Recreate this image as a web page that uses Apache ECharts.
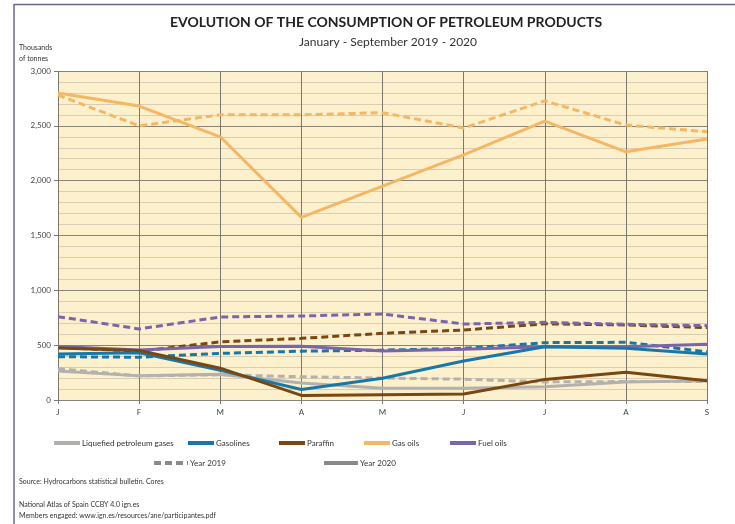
<!DOCTYPE html>
<html><head><meta charset="utf-8">
<script src="https://cdn.jsdelivr.net/npm/echarts@6/dist/echarts.min.js"></script>
<style>html,body{margin:0;padding:0;background:#fff}#c{width:735px;height:524px}</style>
</head><body><div id="c"></div>
<script>
const months = ['J','F','M','A','M','J','J','A','S'];
const yTicks = [0, 500, 1000, 1500, 2000, 2500, 3000];
const products = ['Liquefied petroleum gases','Gasolines','Paraffin','Gas oils','Fuel oils'];
const years = ['Year 2019','Year 2020'];
const lpg2019 = [285, 220, 230, 212, 200, 190, 165, 168, 168];
const lpg2020 = [265, 220, 235, 155, 107, 107, 120, 165, 175];
const gasolines2019 = [395, 390, 425, 445, 455, 470, 523, 526, 440];
const gasolines2020 = [420, 430, 270, 95, 198, 355, 486, 472, 420];
const paraffin2019 = [480, 445, 530, 562, 608, 638, 695, 684, 660];
const paraffin2020 = [475, 452, 290, 42, 48, 55, 188, 252, 176];
const gasoils2019 = [2780, 2500, 2600, 2600, 2620, 2480, 2728, 2507, 2446];
const gasoils2020 = [2800, 2680, 2400, 1665, 1950, 2235, 2543, 2263, 2380];
const fueloils2019 = [760, 648, 757, 766, 784, 693, 708, 690, 678];
const fueloils2020 = [487, 456, 487, 490, 447, 462, 486, 486, 508];

const colors = {lpg:'#b3b1ae', gas:'#1777a8', par:'#7a4710', go:'#f4b766', fo:'#7a65ad'};
const font = 'Lato, "DejaVu Sans", sans-serif';
const narrow = '"Liberation Sans Narrow", Lato, sans-serif';

function s(name, data, color, dashed){
  return {type:'line', name, data, symbol:'none', smooth:false,
    lineStyle:{color, width:3, type: dashed ? [7,4] : 'solid'}, itemStyle:{color}};
}
const series = [
  s('LPG 2019', lpg2019, colors.lpg, true),
  s('Liquefied petroleum gases', lpg2020, colors.lpg, false),
  s('Gasolines 2019', gasolines2019, colors.gas, true),
  s('Paraffin 2019', paraffin2019, colors.par, true),
  s('Fuel oils 2019', fueloils2019, colors.fo, true),
  s('Fuel oils', fueloils2020, colors.fo, false),
  s('Gasolines', gasolines2020, colors.gas, false),
  s('Paraffin', paraffin2020, colors.par, false),
  s('Gas oils 2019', gasoils2019, colors.go, true),
  s('Gas oils', gasoils2020, colors.go, false),
  {type:'line', name:years[0], data:[], symbol:'none', lineStyle:{color:'#8a8a8a', width:3, type:[7,4]}, itemStyle:{color:'#8a8a8a'}},
  {type:'line', name:years[1], data:[], symbol:'none', lineStyle:{color:'#8a8a8a', width:3}, itemStyle:{color:'#8a8a8a'}}
];

const legendCommon = {itemHeight:8, itemStyle:{opacity:0}, padding:0,
  lineStyle:{width:4},
  textStyle:{fontFamily:narrow, fontSize:8, color:'#333', padding:[0,0,0,-3]}};
const row1Left = [52, 186, 277, 362, 448];
const row2Left = [152, 322];
const legends = products.map((p, i) => Object.assign({data:[p], left:row1Left[i], top:439, itemWidth:26}, legendCommon))
  .concat(years.map((y, i) => Object.assign({data:[y], left:row2Left[i], top:459, itemWidth:34}, legendCommon)));

const chart = echarts.init(document.getElementById('c'), null, {renderer:'canvas'});
chart.setOption({
  animation:false,
  backgroundColor:'#ffffff',
  title:[
    {text:'EVOLUTION OF THE CONSUMPTION OF PETROLEUM PRODUCTS', left:381, top:10, textAlign:'center',
     textStyle:{fontFamily:font, fontSize:14, fontWeight:'bold', color:'#222'}},
    {text:'January - September 2019 - 2020', left:383, top:31, textAlign:'center',
     textStyle:{fontFamily:font, fontSize:12, fontWeight:'normal', color:'#333'}}
  ],
  grid:{left:58, right:28, top:71, bottom:124, show:true, backgroundColor:'#fdf0cd', borderWidth:0},
  xAxis:{type:'category', data:months, boundaryGap:false,
    axisLine:{show:false}, axisTick:{show:true, length:4, lineStyle:{color:'#777'}},
    axisLabel:{fontFamily:font, fontSize:8, color:'#444', margin:8},
    splitLine:{show:true, lineStyle:{color:'#7d776c', width:1}}},
  yAxis:{type:'value', min:0, max:3000, interval:500,
    axisLine:{show:false}, axisTick:{show:true, length:4, lineStyle:{color:'#777'}},
    axisLabel:{fontFamily:font, fontSize:8, color:'#444', margin:7,
      formatter:v => yTicks.includes(v) ? v.toLocaleString('en-US') : ''},
    splitLine:{show:true, lineStyle:{color:'#8a8478', width:1}},
    minorTick:{show:false, splitNumber:5},
    minorSplitLine:{show:true, lineStyle:{color:'#d9ceb3', width:1}}},
  legend:legends,
  graphic:[
    {type:'line', shape:{x1:14, y1:4.5, x2:735, y2:4.5}, style:{stroke:'#66668f', lineWidth:1.5}},
    {type:'line', shape:{x1:14, y1:4, x2:14, y2:524}, style:{stroke:'#66668f', lineWidth:1.5}},
    {type:'text', left:19, top:42, style:{text:'Thousands\nof tonnes', font:'7px '+narrow, fill:'#333', lineHeight:11}},
    {type:'text', left:19, top:478, style:{text:'Source: Hydrocarbons statistical bulletin. Cores', font:'7px '+narrow, fill:'#333'}},
    {type:'text', left:19, top:499, style:{text:'National Atlas of Spain CCBY 4.0 ign.es\nMembers engaged: www.ign.es/resources/ane/participantes.pdf', font:'7px '+narrow, fill:'#333', lineHeight:11}}
  ],
  series
});
</script></body></html>
